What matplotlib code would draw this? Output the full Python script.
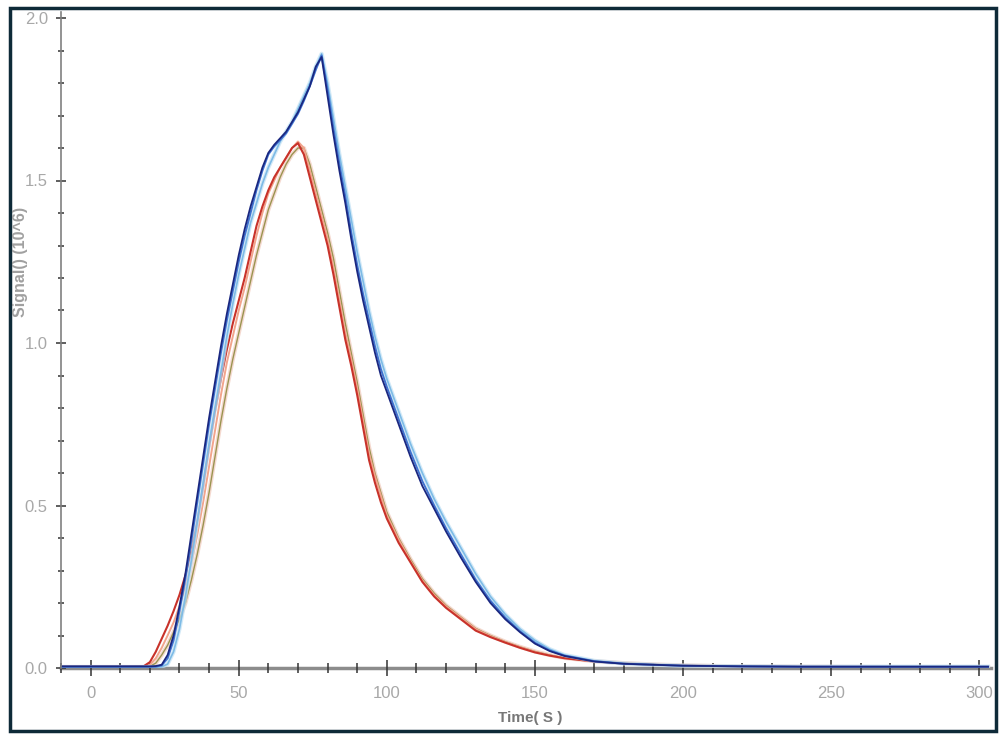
import matplotlib
matplotlib.use("Agg")
import matplotlib.pyplot as plt
from matplotlib.patches import Rectangle
from matplotlib.ticker import MultipleLocator, FormatStrFormatter

plt.rcParams['font.family'] = ['Liberation Sans Narrow', 'Liberation Sans', 'DejaVu Sans']

# time grid (s)
time = [-10, 10, 18, 20, 22, 24, 26, 28, 30, 32, 34, 36, 38, 40, 42, 44, 46, 48, 50,
        52, 54, 56, 58, 60, 62, 64, 66, 68, 70, 72, 74, 76, 78, 80, 82, 84, 86, 88,
        90, 92, 94, 96, 98, 100, 104, 108, 112, 116, 120, 125, 130, 135, 140, 145,
        150, 155, 160, 170, 180, 190, 200, 220, 240, 270, 303]

# signal (10^6) - blue group
navy = [0.005, 0.005, 0.005, 0.005, 0.006, 0.01, 0.04, 0.1, 0.19, 0.29, 0.41, 0.53, 0.65,
        0.77, 0.88, 0.99, 1.09, 1.18, 1.27, 1.35, 1.42, 1.48, 1.54, 1.585, 1.61, 1.63,
        1.65, 1.68, 1.71, 1.75, 1.79, 1.85, 1.88, 1.76, 1.64, 1.53, 1.43, 1.32, 1.22,
        1.13, 1.05, 0.97, 0.9, 0.85, 0.75, 0.65, 0.56, 0.49, 0.42, 0.34, 0.265, 0.2,
        0.15, 0.11, 0.075, 0.052, 0.037, 0.02, 0.013, 0.01, 0.007, 0.005, 0.004, 0.004,
        0.004]
midblue = [0.004, 0.004, 0.004, 0.004, 0.004, 0.008, 0.03, 0.085, 0.175, 0.275, 0.39,
           0.51, 0.63, 0.75, 0.86, 0.97, 1.07, 1.16, 1.25, 1.33, 1.4, 1.47, 1.53, 1.58,
           1.605, 1.625, 1.645, 1.675, 1.705, 1.745, 1.79, 1.84, 1.885, 1.78, 1.66, 1.55,
           1.45, 1.34, 1.24, 1.15, 1.07, 0.99, 0.92, 0.865, 0.765, 0.665, 0.575, 0.5,
           0.43, 0.35, 0.272, 0.207, 0.155, 0.113, 0.078, 0.054, 0.038, 0.021, 0.013,
           0.01, 0.007, 0.005, 0.004, 0.004, 0.004]
lightblue = [0.003, 0.003, 0.003, 0.003, 0.003, 0.004, 0.012, 0.05, 0.12, 0.22, 0.33,
             0.45, 0.57, 0.69, 0.8, 0.91, 1.02, 1.12, 1.21, 1.29, 1.37, 1.43, 1.49,
             1.54, 1.58, 1.62, 1.65, 1.68, 1.72, 1.76, 1.8, 1.85, 1.89, 1.8, 1.69, 1.58,
             1.48, 1.38, 1.28, 1.19, 1.1, 1.02, 0.95, 0.89, 0.79, 0.69, 0.6, 0.52, 0.45,
             0.37, 0.29, 0.22, 0.165, 0.12, 0.085, 0.058, 0.04, 0.022, 0.014, 0.01,
             0.007, 0.005, 0.004, 0.004, 0.004]

# signal (10^6) - red group
red = [0.005, 0.005, 0.006, 0.018, 0.05, 0.09, 0.13, 0.175, 0.225, 0.285, 0.36, 0.45, 0.56,
       0.68, 0.79, 0.89, 0.98, 1.06, 1.13, 1.2, 1.28, 1.36, 1.42, 1.47, 1.51, 1.54, 1.57,
       1.6, 1.615, 1.58, 1.51, 1.44, 1.37, 1.3, 1.21, 1.11, 1.01, 0.93, 0.84, 0.74,
       0.64, 0.57, 0.51, 0.46, 0.385, 0.325, 0.265, 0.22, 0.185, 0.15, 0.115, 0.095,
       0.078, 0.062, 0.048, 0.038, 0.03, 0.02, 0.014, 0.01, 0.008, 0.005, 0.004, 0.003,
       0.003]
salmon = [0.004, 0.004, 0.004, 0.01, 0.03, 0.062, 0.1, 0.14, 0.19, 0.25, 0.32, 0.41,
          0.51, 0.62, 0.73, 0.84, 0.94, 1.02, 1.1, 1.17, 1.25, 1.33, 1.4, 1.46, 1.5,
          1.54, 1.57, 1.6, 1.62, 1.6, 1.53, 1.46, 1.39, 1.32, 1.23, 1.13, 1.03, 0.95,
          0.86, 0.76, 0.66, 0.59, 0.53, 0.47, 0.395, 0.33, 0.27, 0.225, 0.19, 0.155,
          0.12, 0.098, 0.08, 0.064, 0.05, 0.039, 0.031, 0.021, 0.015, 0.011, 0.008,
          0.005, 0.004, 0.003, 0.003]
olive = [0.003, 0.003, 0.003, 0.005, 0.015, 0.04, 0.07, 0.11, 0.15, 0.2, 0.27, 0.35,
         0.44, 0.54, 0.65, 0.76, 0.86, 0.95, 1.03, 1.11, 1.19, 1.27, 1.34, 1.41, 1.46,
         1.51, 1.55, 1.58, 1.6, 1.6, 1.55, 1.48, 1.41, 1.34, 1.26, 1.16, 1.06, 0.97,
         0.88, 0.78, 0.68, 0.6, 0.54, 0.48, 0.4, 0.335, 0.275, 0.23, 0.193, 0.157,
         0.122, 0.1, 0.081, 0.065, 0.051, 0.04, 0.031, 0.021, 0.015, 0.011, 0.008,
         0.005, 0.004, 0.003, 0.003]

W, H = 1006, 737
fig = plt.figure(figsize=(W / 100, H / 100), dpi=100)
ax = fig.add_axes([61 / W, (H - 668) / H, 930 / W, 2.02 * 325 / H])

# light traces first, darker on top
ax.plot(time, olive, color='#eec0b0', lw=3.0, alpha=0.6)
ax.plot(time, olive, color='#9a9450', lw=1.0)
ax.plot(time, salmon, color='#f2a48c', lw=1.4)
ax.plot(time, red, color='#c8322a', lw=1.5)
ax.plot(time, lightblue, color='#c0e0f4', lw=3.0, alpha=0.7)
ax.plot(time, lightblue, color='#7dbbe6', lw=1.2)
ax.plot(time, midblue, color='#3f72d0', lw=1.4)
ax.plot(time, navy, color='#1a2780', lw=1.3)

ax.set_xlim(-10, 304)
ax.set_ylim(0, 2.02)

for s in ['top', 'right']:
    ax.spines[s].set_visible(False)
ax.spines['left'].set_color('#808080')
ax.spines['left'].set_linewidth(1.2)
ax.spines['bottom'].set_color('#8c8c8c')
ax.spines['bottom'].set_linewidth(2.5)
ax.spines['bottom'].set_zorder(0.5)

ax.xaxis.set_major_locator(MultipleLocator(50))
ax.xaxis.set_minor_locator(MultipleLocator(10))
ax.yaxis.set_major_locator(MultipleLocator(0.5))
ax.yaxis.set_minor_locator(MultipleLocator(0.1))
ax.tick_params(axis='x', which='major', direction='inout', length=12, width=1.1,
               color='#333333', labelsize=12, labelcolor='#a8a8a8', pad=7)
ax.tick_params(axis='x', which='minor', direction='inout', length=7, width=1.1,
               color='#333333')
ax.tick_params(axis='y', which='major', direction='inout', length=7, width=1.1,
               color='#333333', labelsize=12, labelcolor='#a8a8a8', pad=6)
ax.tick_params(axis='y', which='minor', direction='inout', length=5, width=1.1,
               color='#333333')
ax.yaxis.set_major_formatter(FormatStrFormatter('%.1f'))

fig.text(530 / W, 1 - 718 / H, 'Time( S )', ha='center', va='center',
         fontsize=11, color='#777777', fontweight='bold')
fig.text(21 / W, 1 - 262 / H, 'Signal() (10^6)', ha='center', va='center',
         rotation=90, fontsize=11.5, color='#a0a0a0', fontweight='bold',
         family=['Liberation Sans', 'DejaVu Sans'])

fig.patches.append(Rectangle((10 / W, 1 - 731 / H), 986 / W, 723 / H,
                             transform=fig.transFigure, fill=False,
                             edgecolor='#0e2a38', linewidth=2.5))

fig.savefig('out.png', dpi=100)
